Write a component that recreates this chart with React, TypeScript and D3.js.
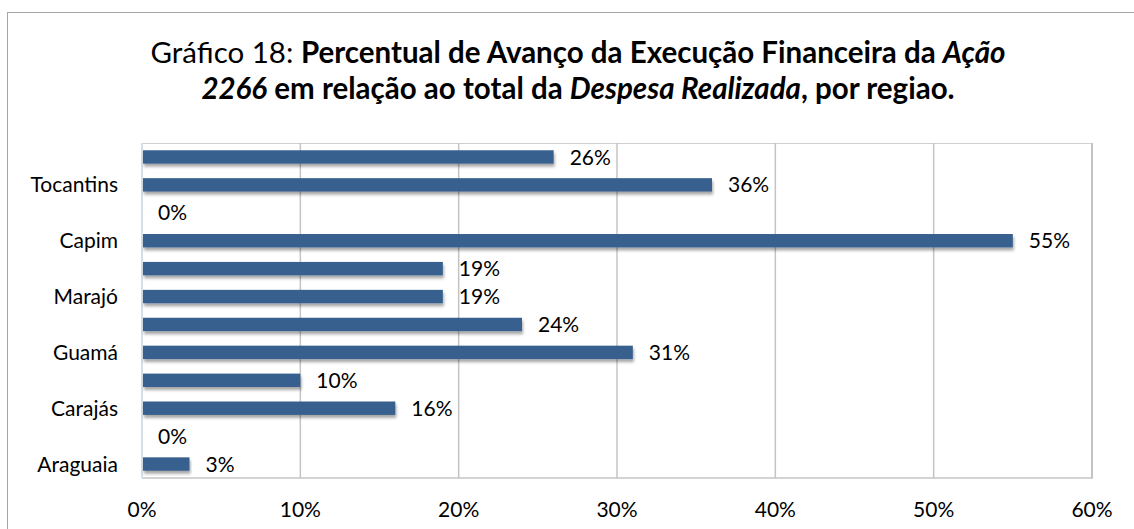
import React from "react";
import * as d3 from "d3";

// Categories from bottom to top (labels shown every other row, as in the reference)
const categories: string[] = [
  "Araguaia", "", "Carajás", "", "Guamá", "", "Marajó", "", "Capim", "", "Tocantins", "",
];
const values: number[] = [0.03, 0.0, 0.16, 0.1, 0.31, 0.24, 0.19, 0.19, 0.55, 0.0, 0.36, 0.26];
const xTicks: number[] = [0, 0.1, 0.2, 0.3, 0.4, 0.5, 0.6];

const W = 1134;
const H = 529;
const margin = { left: 142, right: W - 1092, top: 143, bottom: H - 478 };
const FONT = "Lato, 'Open Sans', sans-serif";
const BAR = "#38608F";
const LABEL_SIZE = 21;
const TITLE_SIZE = 29.5;

export default function App() {
  const x = d3.scaleLinear().domain([0, 0.6]).range([margin.left, W - margin.right]);
  const idx = d3.range(categories.length);
  const y = d3
    .scaleBand<number>()
    .domain(idx.slice().reverse())
    .range([margin.top, H - margin.bottom])
    .paddingInner(0.52)
    .paddingOuter(0.26);
  const fmt = d3.format(".0%");
  const top = margin.top;
  const bottom = H - margin.bottom;

  return (
    <svg
      width={W}
      height={H}
      style={{ position: "fixed", left: 0, top: 0, background: "#fff" }}
      fontFamily={FONT}
    >
      <defs>
        <filter id="sh" x="-5%" y="-50%" width="110%" height="220%">
          <feDropShadow dx="1" dy="3" stdDeviation="1.8" floodColor="#000" floodOpacity="0.35" />
        </filter>
      </defs>
      {/* chart border */}
      <rect x={7.5} y={12.5} width={W + 20} height={H + 20} fill="none" stroke="#a6a6a6" strokeWidth={1} />

      {/* title */}
      <text x={578} y={63} textAnchor="middle" fontSize={TITLE_SIZE} fill="#000">
        <tspan>Gráfico 18: </tspan>
        <tspan fontWeight="bold">Percentual de Avanço da Execução Financeira da </tspan>
        <tspan fontWeight="bold" fontStyle="italic">Ação</tspan>
      </text>
      <text x={578} y={99} textAnchor="middle" fontSize={TITLE_SIZE} fill="#000">
        <tspan fontWeight="bold" fontStyle="italic">2266</tspan>
        <tspan fontWeight="bold"> em relação ao total da </tspan>
        <tspan fontWeight="bold" fontStyle="italic">Despesa Realizada</tspan>
        <tspan fontWeight="bold">, por regiao.</tspan>
      </text>

      {/* plot border top */}
      <line x1={margin.left} x2={x(0.6)} y1={top + 0.5} y2={top + 0.5} stroke="#d0d0d0" />
      {/* gridlines */}
      {xTicks.slice(1).map((t) => (
        <line key={t} x1={x(t)} x2={x(t)} y1={top} y2={bottom} stroke="#c4c4c4" strokeWidth={t === 0.6 ? 2 : 1.5} />
      ))}
      {/* bottom axis */}
      <line x1={margin.left} x2={x(0.6) + 1} y1={bottom} y2={bottom} stroke="#c4c4c4" strokeWidth={1.5} />
      {/* left axis */}
      <line x1={margin.left} x2={margin.left} y1={top} y2={bottom} stroke="#d5deeb" strokeWidth={2} />

      {/* bars */}
      {idx.map((i) => (
        <g key={i}>
          {values[i] > 0 && (
            <rect
              x={x(0) + 1}
              y={y(i)!}
              width={x(values[i]) - x(0) - 1}
              height={y.bandwidth()}
              fill={BAR}
              filter="url(#sh)"
            />
          )}
          <text
            x={x(values[i]) + 16}
            y={y(i)! + y.bandwidth() / 2}
            dy="0.36em"
            fontSize={LABEL_SIZE}
            fill="#000"
          >
            {fmt(values[i])}
          </text>
          {categories[i] && (
            <text
              x={margin.left - 24}
              y={y(i)! + y.bandwidth() / 2}
              dy="0.36em"
              textAnchor="end"
              fontSize={LABEL_SIZE}
              fill="#000"
            >
              {categories[i]}
            </text>
          )}
        </g>
      ))}

      {/* x tick labels */}
      {xTicks.map((t) => (
        <text key={t} x={x(t)} y={517} textAnchor="middle" fontSize={LABEL_SIZE} fill="#000">
          {fmt(t)}
        </text>
      ))}
    </svg>
  );
}
